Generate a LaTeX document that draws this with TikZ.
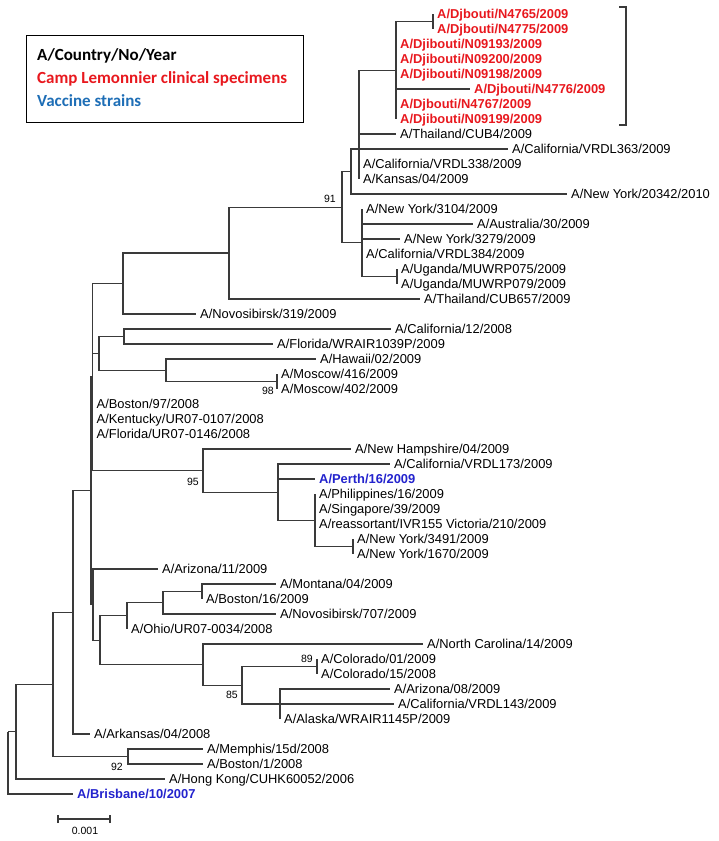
\documentclass[tikz,border=0pt]{standalone}
\usepackage{fontspec}
\setmainfont{Liberation Sans}
\newfontfamily\legfont{Carlito}
\definecolor{djred}{RGB}{232,24,30}
\definecolor{vacblue}{RGB}{35,35,205}
\definecolor{legblue}{RGB}{30,110,182}
\definecolor{brc}{RGB}{58,58,58}
\begin{document}
\begin{tikzpicture}[x=1pt,y=-1pt,
  br/.style={draw=brc, line width=1.1pt},
  lf/.style={anchor=west, inner xsep=4pt, inner ysep=0pt, text height=9.2pt, text depth=0pt, font=\fontsize{12.9}{14}\selectfont},
  dj/.style={lf, text=djred, font=\fontsize{12.9}{14}\selectfont\bfseries},
  vac/.style={lf, text=vacblue, font=\fontsize{12.9}{14}\selectfont\bfseries},
  bsv/.style={anchor=east, inner sep=0pt, text height=7.5pt, text depth=0pt, font=\fontsize{10.5}{12}\selectfont},
  legtxt/.style={anchor=west, inner sep=0pt, text height=10.9pt, text depth=0pt, font=\legfont\fontsize{17}{20}\selectfont\bfseries}
]
\useasboundingbox (0,0) rectangle (718,841);

% legend
\node[draw=black, line width=1.2pt, minimum width=277pt, minimum height=87pt, anchor=north west, inner sep=0pt] (legend) at (26,35) {};
\node[legtxt] (leg1) at (37,55) {A/Country/No/Year};
\node[legtxt, text=djred] (leg2) at (37,78) {Camp Lemonnier clinical specimens};
\node[legtxt, text=legblue] (leg3) at (37,101) {Vaccine strains};

% internal nodes
\coordinate (R0) at (8,731.7);
\coordinate (N16) at (16,731.7);
\coordinate (N53) at (53,684.5);
\coordinate (N128) at (128,756.5);
\coordinate (N73) at (73,612.4);
\coordinate (N92) at (91,490.8);
\coordinate (C) at (92.5,377);
\coordinate (D) at (93,604.6);
\coordinate (N123) at (123,283.5);
\coordinate (N229) at (229,253);
\coordinate (N342) at (342,207.1);
\coordinate (N351) at (351,171.5);
\coordinate (N359) at (359,149);
\coordinate (NDj) at (396,70.25);
\coordinate (NDj2) at (433,21.5);
\coordinate (N362) at (362,242.75);
\coordinate (NUg) at (397,276.5);
\coordinate (N99) at (99,353.4);
\coordinate (N124) at (124,336.5);
\coordinate (N166) at (166,370.25);
\coordinate (NMos) at (277,381.5);
\coordinate (N203) at (203,470.6);
\coordinate (N278) at (278,492.1);
\coordinate (N315) at (315,520.25);
\coordinate (NNY) at (353,546.5);
\coordinate (N100) at (100,640.25);
\coordinate (N127) at (127,615.9);
\coordinate (N163) at (163,602.75);
\coordinate (N202) at (202,591.5);
\coordinate (N203b) at (203,664.6);
\coordinate (N242) at (242,685.25);
\coordinate (NCol) at (317,666.5);
\coordinate (N280) at (280,704);

% leaves
\node[dj] (dj4765) at (433,14) {A/Djbouti/N4765/2009};
\node[dj] (dj4775) at (433,29) {A/Djbouti/N4775/2009};
\node[dj] (dj9193) at (396,44) {A/Djibouti/N09193/2009};
\node[dj] (dj9200) at (396,59) {A/Djibouti/N09200/2009};
\node[dj] (dj9198) at (396,74) {A/Djibouti/N09198/2009};
\node[dj] (dj4776) at (470,89) {A/Djbouti/N4776/2009};
\node[dj] (dj4767) at (396,104) {A/Djbouti/N4767/2009};
\node[dj] (dj9199) at (396,119) {A/Djibouti/N09199/2009};
\node[lf] (thcub4) at (396,134) {A/Thailand/CUB4/2009};
\node[lf] (ca363) at (508,149) {A/California/VRDL363/2009};
\node[lf] (ca338) at (359,164) {A/California/VRDL338/2009};
\node[lf] (kan) at (359,179) {A/Kansas/04/2009};
\node[lf] (ny20342) at (567,194) {A/New York/20342/2010};
\node[lf] (ny3104) at (362,209) {A/New York/3104/2009};
\node[lf] (aus) at (473,224) {A/Australia/30/2009};
\node[lf] (ny3279) at (400,239) {A/New York/3279/2009};
\node[lf] (ca384) at (362,254) {A/California/VRDL384/2009};
\node[lf] (ug075) at (397,269) {A/Uganda/MUWRP075/2009};
\node[lf] (ug079) at (397,284) {A/Uganda/MUWRP079/2009};
\node[lf] (th657) at (420,299) {A/Thailand/CUB657/2009};
\node[lf] (nov319) at (196,314) {A/Novosibirsk/319/2009};
\node[lf] (ca12) at (391,329) {A/California/12/2008};
\node[lf] (flw) at (273,344) {A/Florida/WRAIR1039P/2009};
\node[lf] (haw) at (316,359) {A/Hawaii/02/2009};
\node[lf] (mos416) at (277,374) {A/Moscow/416/2009};
\node[lf] (mos402) at (277,389) {A/Moscow/402/2009};
\node[lf] (bos97) at (92.5,404) {A/Boston/97/2008};
\node[lf] (ken) at (92.5,419) {A/Kentucky/UR07-0107/2008};
\node[lf] (flur) at (92.5,434) {A/Florida/UR07-0146/2008};
\node[lf] (nh) at (351,449) {A/New Hampshire/04/2009};
\node[lf] (ca173) at (390,464) {A/California/VRDL173/2009};
\node[vac] (perth) at (315,479) {A/Perth/16/2009};
\node[lf] (phi) at (315,494) {A/Philippines/16/2009};
\node[lf] (sin) at (315,509) {A/Singapore/39/2009};
\node[lf] (rea) at (315,524) {A/reassortant/IVR155 Victoria/210/2009};
\node[lf] (ny3491) at (353,539) {A/New York/3491/2009};
\node[lf] (ny1670) at (353,554) {A/New York/1670/2009};
\node[lf] (az11) at (158,569) {A/Arizona/11/2009};
\node[lf] (mon) at (276,584) {A/Montana/04/2009};
\node[lf] (bos16) at (202,599) {A/Boston/16/2009};
\node[lf] (nov707) at (276,614) {A/Novosibirsk/707/2009};
\node[lf] (ohio) at (127,629) {A/Ohio/UR07-0034/2008};
\node[lf] (nc) at (423,644) {A/North Carolina/14/2009};
\node[lf] (col01) at (317,659) {A/Colorado/01/2009};
\node[lf] (col15) at (317,674) {A/Colorado/15/2008};
\node[lf] (az08) at (390,689) {A/Arizona/08/2009};
\node[lf] (ca143) at (394,704) {A/California/VRDL143/2009};
\node[lf] (ala) at (280,719) {A/Alaska/WRAIR1145P/2009};
\node[lf] (ark) at (90,734) {A/Arkansas/04/2008};
\node[lf] (mem) at (203,749) {A/Memphis/15d/2008};
\node[lf] (bos1) at (203,764) {A/Boston/1/2008};
\node[lf] (hk) at (165,779) {A/Hong Kong/CUHK60052/2006};
\node[vac] (bris) at (73,794) {A/Brisbane/10/2007};

% branches
\draw[br] (R0) |- (N16);
\draw[br] (R0) |- (bris.west);
\draw[br] (N16) |- (N53);
\draw[br] (N16) |- (hk.west);
\draw[br] (N53) |- (N73);
\draw[br] (N53) |- (N128);
\draw[br] (N128) |- (mem.west);
\draw[br] (N128) |- (bos1.west);
\draw[br] (N73) |- (N92);
\draw[br] (N73) |- (ark.west);
\draw[br] (N92) |- (C);
\draw[br] (N92) |- (D);
\draw[br] (C) |- (N123);
\draw[br] (C) |- (N99);
\draw[br] (C) |- (bos97.west);
\draw[br] (C) |- (ken.west);
\draw[br] (C) |- (flur.west);
\draw[br] (C) |- (N203);
\draw[br] (D) |- (az11.west);
\draw[br] (D) |- (N100);
\draw[br] (N123) |- (N229);
\draw[br] (N123) |- (nov319.west);
\draw[br] (N229) |- (N342);
\draw[br] (N229) |- (th657.west);
\draw[br] (N342) |- (N351);
\draw[br] (N342) |- (N362);
\draw[br] (N351) |- (ca363.west);
\draw[br] (N351) |- (N359);
\draw[br] (N351) |- (ny20342.west);
\draw[br] (N359) |- (NDj);
\draw[br] (N359) |- (thcub4.west);
\draw[br] (N359) |- (ca338.west);
\draw[br] (N359) |- (kan.west);
\draw[br] (NDj) |- (NDj2);
\draw[br] (NDj2) |- (dj4765.west);
\draw[br] (NDj2) |- (dj4775.west);
\draw[br] (NDj) |- (dj9193.west);
\draw[br] (NDj) |- (dj9200.west);
\draw[br] (NDj) |- (dj9198.west);
\draw[br] (NDj) |- (dj4776.west);
\draw[br] (NDj) |- (dj4767.west);
\draw[br] (NDj) |- (dj9199.west);
\draw[br] (N362) |- (ny3104.west);
\draw[br] (N362) |- (aus.west);
\draw[br] (N362) |- (ny3279.west);
\draw[br] (N362) |- (ca384.west);
\draw[br] (N362) |- (NUg);
\draw[br] (NUg) |- (ug075.west);
\draw[br] (NUg) |- (ug079.west);
\draw[br] (N99) |- (N124);
\draw[br] (N99) |- (N166);
\draw[br] (N124) |- (ca12.west);
\draw[br] (N124) |- (flw.west);
\draw[br] (N166) |- (haw.west);
\draw[br] (N166) |- (NMos);
\draw[br] (NMos) |- (mos416.west);
\draw[br] (NMos) |- (mos402.west);
\draw[br] (N203) |- (nh.west);
\draw[br] (N203) |- (N278);
\draw[br] (N278) |- (ca173.west);
\draw[br] (N278) |- (perth.west);
\draw[br] (N278) |- (N315);
\draw[br] (N315) |- (phi.west);
\draw[br] (N315) |- (sin.west);
\draw[br] (N315) |- (rea.west);
\draw[br] (N315) |- (NNY);
\draw[br] (NNY) |- (ny3491.west);
\draw[br] (NNY) |- (ny1670.west);
\draw[br] (N100) |- (N127);
\draw[br] (N100) |- (N203b);
\draw[br] (N127) |- (N163);
\draw[br] (N127) |- (ohio.west);
\draw[br] (N163) |- (N202);
\draw[br] (N163) |- (nov707.west);
\draw[br] (N202) |- (mon.west);
\draw[br] (N202) |- (bos16.west);
\draw[br] (N203b) |- (nc.west);
\draw[br] (N203b) |- (N242);
\draw[br] (N242) |- (NCol);
\draw[br] (N242) |- (N280);
\draw[br] (NCol) |- (col01.west);
\draw[br] (NCol) |- (col15.west);
\draw[br] (N280) |- (az08.west);
\draw[br] (N280) |- (ca143.west);
\draw[br] (N280) |- (ala.west);

% support values
\node[bsv] (s91) at (336,199) {91};
\node[bsv] (s98) at (274,391) {98};
\node[bsv] (s95) at (199,482) {95};
\node[bsv] (s89) at (313,659) {89};
\node[bsv] (s85) at (238,695) {85};
\node[bsv] (s92) at (123,767) {92};

% bracket around Djibouti cluster
\coordinate (bt) at (619,7);
\coordinate (bb) at (619,125);
\draw[draw=brc, line width=1.1pt] (bt) -- ++(7,0) |- (bb);

% scale bar
\coordinate (sb1) at (58,819);
\coordinate (sb2) at (110,819);
\draw[br] (sb1) -- (sb2);
\draw[br] ([yshift=-4pt]sb1) -- ([yshift=4pt]sb1);
\draw[br] ([yshift=-4pt]sb2) -- ([yshift=4pt]sb2);
\node[inner sep=0pt, text height=7.5pt, text depth=0pt, font=\fontsize{10.5}{12}\selectfont] (sblab) at (85,831) {0.001};
\end{tikzpicture}
\end{document}
